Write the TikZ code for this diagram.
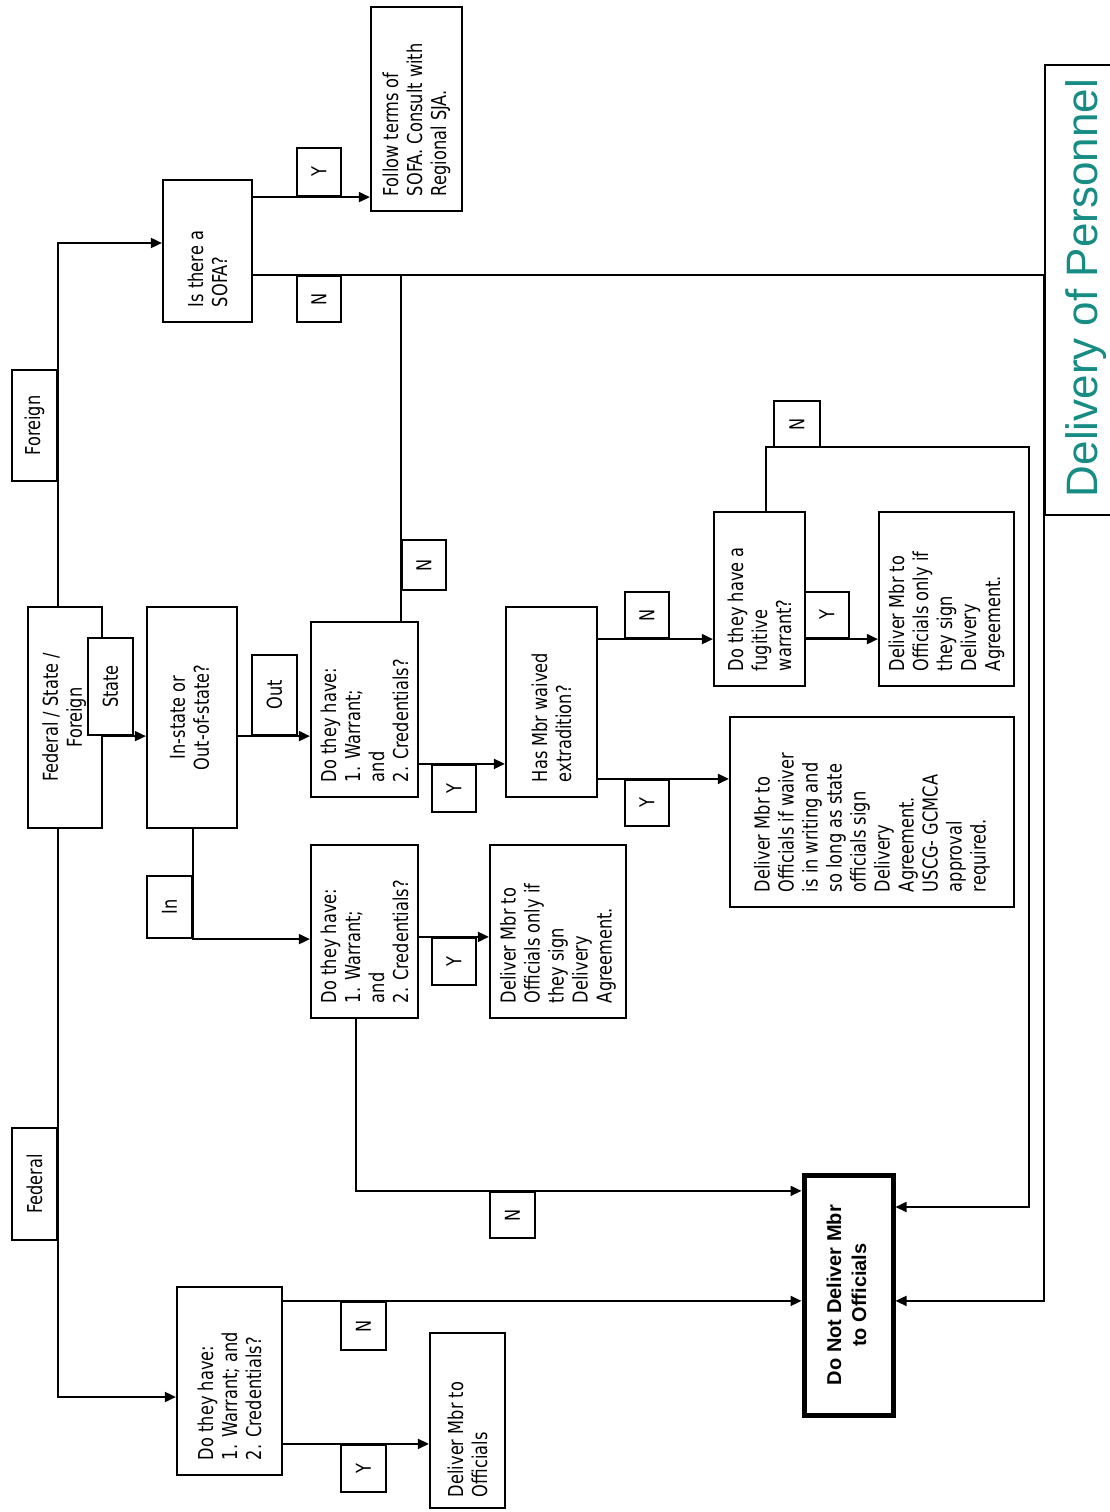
\documentclass[tikz,border=0pt]{standalone}
\usepackage{fontspec}
\usepackage{graphicx}
\usetikzlibrary{arrows.meta}
\newfontfamily\qf[FakeStretch=0.79]{DejaVu Sans}
\newfontfamily\tf{Liberation Sans}
\definecolor{tealtitle}{RGB}{22,140,132}
\newcommand{\qfnt}{\qf\fontsize{20.5}{24}\selectfont}
\newcommand{\rl}[2]{\rotatebox{90}{\parbox{#1}{\raggedright #2}}}
\newcommand{\rcen}[1]{\rotatebox{90}{\begin{tabular}{@{}c@{}}#1\end{tabular}}}
\newcommand{\rlab}[1]{\rotatebox{90}{#1}}
\begin{document}
\begin{tikzpicture}[x=1pt,y=-1pt,
  bx/.style={draw, line width=2.2pt, fill=white, inner sep=0pt, font=\qfnt},
  lb/.style={bx},
  ln/.style={line width=1.8pt},
  arr/.style={ln, -{Triangle[length=11pt,width=10pt]}}]
\useasboundingbox (0,0) rectangle (1110,1512);
\fill[white] (0,0) rectangle (1110,1512);

% title
\node[draw, line width=2pt, fill=white, minimum width=85pt, minimum height=450pt, inner sep=0pt] (title) at (1087.5,290) {};
\node[rotate=90, inner sep=0pt, font=\tf\fontsize{44}{50}\selectfont, text=tealtitle] (titletext) at (1086,288) {Delivery of Personnel};

% main boxes
\node[bx, minimum width=91pt, minimum height=204pt] (follow) at (416.5,109) {\rl{174pt}{Follow terms of\\SOFA. Consult with\\Regional SJA.}};
\node[bx, minimum width=89pt, minimum height=142pt] (sofa) at (207.5,251) {\rl{112pt}{Is there a\\SOFA?}};
\node[bx, minimum width=74pt, minimum height=221pt] (fsf) at (65,717.5) {\rcen{Federal / State /\\Foreign}};
\node[bx, minimum width=90pt, minimum height=221pt] (instate) at (192,717.5) {\rcen{In-state or\\Out-of-state?}};
\node[bx, minimum width=107pt, minimum height=175pt] (qout) at (364.5,709.5) {\rl{145pt}{Do they have:\\1. Warrant;\\and\\2. Credentials?}};
\node[bx, minimum width=91pt, minimum height=190pt] (hasmbr) at (551.5,702) {\rl{160pt}{Has Mbr waived\\extradition?}};
\node[bx, minimum width=91pt, minimum height=174pt] (fug) at (759.5,599) {\rl{144pt}{Do they have a\\fugitive\\warrant?}};
\node[bx, minimum width=135pt, minimum height=174pt] (delfug) at (946.5,599) {\rl{144pt}{Deliver Mbr to\\Officials only if\\they sign\\Delivery\\Agreement.}};
\node[bx, minimum width=284pt, minimum height=190pt] (waiver) at (872,812) {\rl{160pt}{Deliver Mbr to\\Officials if waiver\\is in writing and\\so long as state\\officials sign\\Delivery\\Agreement.\\USCG- GCMCA\\approval\\required.}};
\node[bx, minimum width=107pt, minimum height=173pt] (qin) at (364.5,931.5) {\rl{143pt}{Do they have:\\1. Warrant;\\and\\2. Credentials?}};
\node[bx, minimum width=136pt, minimum height=173pt] (delin) at (558,931.5) {\rl{143pt}{Deliver Mbr to\\Officials only if\\they sign\\Delivery\\Agreement.}};
\node[bx, minimum width=105pt, minimum height=188pt] (qfed) at (229.5,1381) {\rl{158pt}{Do they have:\\1. Warrant; and\\2. Credentials?}};
\node[bx, minimum width=75pt, minimum height=175pt] (delfed) at (467.5,1420.5) {\rl{153pt}{Deliver Mbr to\\Officials}};
\node[draw, line width=5pt, fill=white, inner sep=0pt, minimum width=89pt, minimum height=240pt, font=\tf\bfseries\fontsize{20}{25}\selectfont] (notdel) at (848.5,1295) {\rcen{Do Not Deliver Mbr\\to Officials}};

% labels
\node[lb, minimum width=45pt, minimum height=111pt] (foreign) at (34.5,425.5) {\rlab{Foreign}};
\node[lb, minimum width=45pt, minimum height=112pt] (federal) at (34.5,1184) {\rlab{Federal}};
\node[lb, minimum width=44pt, minimum height=48pt] (ysofa) at (319,172) {\rlab{Y}};
\node[lb, minimum width=44pt, minimum height=46pt] (nsofa) at (319,299) {\rlab{N}};
\node[lb, minimum width=45pt, minimum height=97pt] (state) at (110.5,686.5) {\rlab{State}};
\node[lb, minimum width=45pt, minimum height=80pt] (outl) at (274.5,695) {\rlab{Out}};
\node[lb, minimum width=44pt, minimum height=50pt] (nout) at (424,565) {\rlab{N}};
\node[lb, minimum width=44pt, minimum height=47pt] (yout) at (454,788.5) {\rlab{Y}};
\node[lb, minimum width=44pt, minimum height=46pt] (nhas) at (647,615) {\rlab{N}};
\node[lb, minimum width=44pt, minimum height=46pt] (yfug) at (827,615) {\rlab{Y}};
\node[lb, minimum width=46pt, minimum height=46pt] (nfug) at (797,424) {\rlab{N}};
\node[lb, minimum width=44pt, minimum height=46pt] (yhas) at (647,803) {\rlab{Y}};
\node[lb, minimum width=45pt, minimum height=62pt] (inl) at (169.5,907) {\rlab{In}};
\node[lb, minimum width=44pt, minimum height=47pt] (yin) at (454,961.5) {\rlab{Y}};
\node[lb, minimum width=45pt, minimum height=46pt] (nin) at (512.5,1215) {\rlab{N}};
\node[lb, minimum width=45pt, minimum height=48pt] (nfed) at (363.5,1326) {\rlab{N}};
\node[lb, minimum width=45pt, minimum height=47pt] (yfed) at (363.5,1468.5) {\rlab{Y}};

% connectors
\coordinate (rtop) at (1029,447);
\draw[arr] (fsf.north -| foreign.east) |- (sofa.west |- 0,243);
\draw[arr] (sofa.east |- ysofa.south) -- (follow.west |- ysofa.south);
\draw[arr] (sofa.east |- nsofa.north) -- (title.north west |- nsofa.north) -- (title.north west |- nfed.north) -- (notdel.east |- nfed.north);
\draw[ln] (qout.north -| nout.west) -- (nout.west |- nsofa.north);
\draw[arr] (fsf.east |- state.south) -- (instate.west |- state.south);
\draw[arr] (instate.east |- outl.south) -- (qout.west |- outl.south);
\draw[arr] (qout.east |- yout.north) -- (hasmbr.west |- yout.north);
\draw[arr] (hasmbr.east |- nhas.south) -- (fug.west |- nhas.south);
\draw[arr] (hasmbr.east |- yhas.north) -- (waiver.west |- yhas.north);
\draw[arr] (fug.east |- yfug.south) -- (delfug.west |- yfug.south);
\draw[arr] ([xshift=6.5pt]fug.north) |- (rtop) |- (notdel.east |- 0,1207);
\draw[arr] (instate.south -| inl.east) |- (qin.west |- inl.south);
\draw[arr] (qin.east |- yin.north) -- (delin.west |- yin.north);
\draw[arr] ([xshift=-8.5pt]qin.south) |- (notdel.west |- nin.north);
\draw[arr] (fsf.south -| federal.east) |- (qfed.west |- 0,1397);
\draw[arr] (qfed.east |- nfed.north) -- (notdel.west |- nfed.north);
\draw[arr] (qfed.east |- yfed.north) -- (delfed.west |- yfed.north);
\end{tikzpicture}
\end{document}
